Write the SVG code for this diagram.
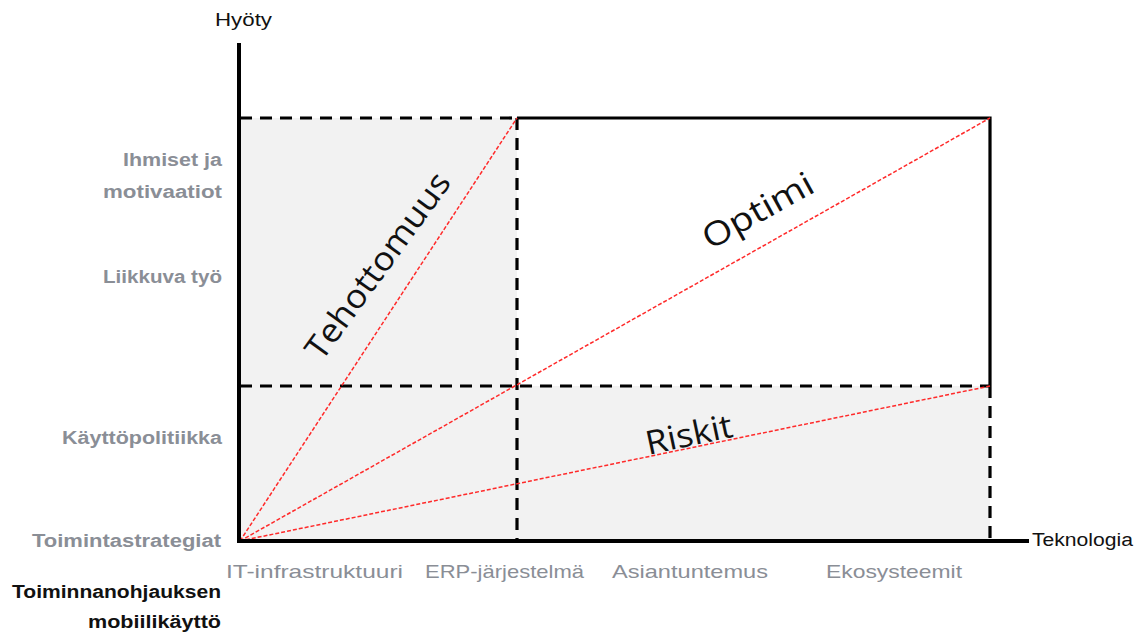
<svg xmlns="http://www.w3.org/2000/svg" width="1140" height="635" viewBox="0 0 1140 635">
  <style>
    .axis { stroke: #000; stroke-width: 4; fill: none; }
    .frame { stroke: #000; stroke-width: 3.2; fill: none; }
    .grid { stroke: #000; stroke-width: 3.2; fill: none; stroke-dasharray: 12 8; }
    .ray { stroke: #ff2a2a; stroke-width: 1.5; fill: none; stroke-dasharray: 4 2; }
    .zone { fill: #f2f2f2; }
    .ylab { font-family: "Liberation Sans", Arial, sans-serif; font-size: 18px; font-weight: bold; fill: #8a8e96; text-anchor: end; }
    .ylab-key { font-family: "Liberation Sans", Arial, sans-serif; font-size: 18px; font-weight: bold; fill: #111; text-anchor: end; }
    .xlab { font-family: "Liberation Sans", Arial, sans-serif; font-size: 19px; fill: #8a8e96; }
    .title { font-family: "Liberation Sans", Arial, sans-serif; font-size: 18px; fill: #111; }
    .area { font-family: "Open Sans", "Liberation Sans", sans-serif; font-size: 33px; fill: #111; text-anchor: middle; }
  </style>

  <!-- shaded regions -->
  <g id="zones">
    <rect class="zone" x="239" y="118" width="278" height="423"/>
    <rect class="zone" x="517" y="386" width="473" height="155"/>
  </g>

  <!-- connectors: frame, grid and rays -->
  <g id="connectors">
    <line class="grid" x1="240" y1="118" x2="517" y2="118"/>
    <polyline class="frame" points="517,118 990,118 990,386"/>
    <line class="grid" x1="990" y1="386" x2="990" y2="540"/>
    <line class="grid" x1="240" y1="386" x2="990" y2="386"/>
    <line class="grid" x1="517" y1="118" x2="517" y2="540"/>
    <line class="ray" x1="240" y1="541" x2="517" y2="118"/>
    <line class="ray" x1="240" y1="541" x2="990" y2="118"/>
    <line class="ray" x1="240" y1="541" x2="990" y2="386"/>
    <line class="axis" x1="239" y1="43" x2="239" y2="543"/>
    <line class="axis" x1="237" y1="541" x2="1029" y2="541"/>
  </g>

  <g id="axis-titles">
    <text class="title" x="215" y="26" textLength="57" lengthAdjust="spacingAndGlyphs">Hyöty</text>
    <text class="title" x="1032" y="546" textLength="101" lengthAdjust="spacingAndGlyphs">Teknologia</text>
  </g>

  <g id="y-labels">
    <text class="ylab" x="222" y="166" textLength="99" lengthAdjust="spacingAndGlyphs">Ihmiset ja</text>
    <text class="ylab" x="222" y="198" textLength="119" lengthAdjust="spacingAndGlyphs">motivaatiot</text>
    <text class="ylab" x="222" y="283" textLength="119" lengthAdjust="spacingAndGlyphs">Liikkuva työ</text>
    <text class="ylab" x="222" y="444" textLength="160" lengthAdjust="spacingAndGlyphs">Käyttöpolitiikka</text>
    <text class="ylab" x="221" y="547" textLength="189" lengthAdjust="spacingAndGlyphs">Toimintastrategiat</text>
    <text class="ylab-key" x="221" y="598" textLength="209" lengthAdjust="spacingAndGlyphs">Toiminnanohjauksen</text>
    <text class="ylab-key" x="221" y="628" textLength="133" lengthAdjust="spacingAndGlyphs">mobiilikäyttö</text>
  </g>

  <g id="x-labels">
    <text class="xlab" x="226" y="578" textLength="177" lengthAdjust="spacingAndGlyphs">IT-infrastruktuuri</text>
    <text class="xlab" x="425" y="578" textLength="159" lengthAdjust="spacingAndGlyphs">ERP-järjestelmä</text>
    <text class="xlab" x="612" y="578" textLength="156" lengthAdjust="spacingAndGlyphs">Asiantuntemus</text>
    <text class="xlab" x="826" y="578" textLength="136" lengthAdjust="spacingAndGlyphs">Ekosysteemit</text>
  </g>

  <g id="area-tehottomuus" transform="translate(378,266) rotate(-54)">
    <text class="area" x="0" y="11" textLength="222" lengthAdjust="spacingAndGlyphs">Tehottomuus</text>
  </g>
  <g id="area-optimi" transform="translate(758,211) rotate(-29)">
    <text class="area" x="0" y="11" textLength="122" lengthAdjust="spacingAndGlyphs">Optimi</text>
  </g>
  <g id="area-riskit" transform="translate(689,435) rotate(-12)">
    <text class="area" x="0" y="11" textLength="88" lengthAdjust="spacingAndGlyphs">Riskit</text>
  </g>
</svg>
